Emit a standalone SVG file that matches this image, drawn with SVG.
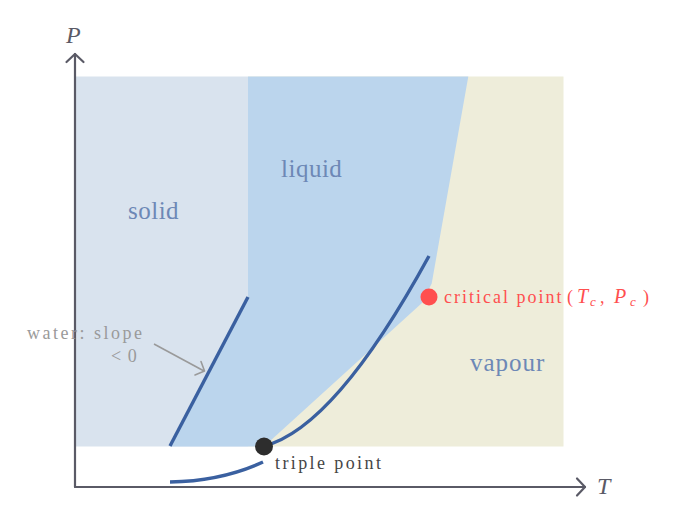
<svg xmlns="http://www.w3.org/2000/svg" width="677" height="521" viewBox="0 0 677 521">
<defs>
<style>
.region{font-family:"Liberation Serif",serif;font-size:25px;fill:#6d88b6;letter-spacing:0.5px}
.small{font-family:"Liberation Serif",serif;font-size:18px;letter-spacing:2.5px}
.axis{stroke:#5a5a66;stroke-width:2.2;fill:none;stroke-linecap:round;stroke-linejoin:round}
.curve{stroke:#3a60a0;stroke-width:3.4;fill:none}
.axlabel{font-family:"Liberation Serif",serif;font-style:italic;font-size:24px;fill:#5a5a66}
.math{font-family:"Liberation Serif",serif;font-size:18px;fill:#ff4f4f}
</style>
</defs>
<g id="regions">
<rect id="solid-region" x="75" y="76.5" width="173" height="370" fill="#d9e3ee"/>
<rect id="vapour-region" x="248" y="76.5" width="315.5" height="370" fill="#eeedda"/>
<polygon id="liquid-region" points="248,76.5 468.3,76.5 431.7,283.5 421.7,303.3 264,446.5 170,446.5 248,297" fill="#bbd5ed"/>
</g>
<g id="connectors">
<path class="curve" d="M170,446 L248,297"/>
<path class="curve" d="M264,446 Q335,428 429,256"/>
<path class="curve" d="M170,482 Q222,481 263,462"/>
<path d="M154,344 L204,371" stroke="#9a9a9a" stroke-width="1.6" fill="none"/>
<path d="M195,375 L204.5,371 L201,361.5" stroke="#9a9a9a" stroke-width="1.6" fill="none" stroke-linecap="round" stroke-linejoin="round"/>
</g>
<g id="axes">
<path class="axis" d="M75,487 L75,54"/>
<path class="axis" d="M66.5,62 L75,54 L83.5,62"/>
<path class="axis" d="M75,487 L585,487"/>
<path class="axis" d="M577,478.5 L585,487 L577,495.5"/>
<text class="axlabel" x="66" y="43">P</text>
<text class="axlabel" x="597" y="494">T</text>
</g>
<g id="solid"><text class="region" x="128" y="219">solid</text></g>
<g id="liquid"><text class="region" x="281" y="177">liquid</text></g>
<g id="vapour"><text class="region" x="470" y="371" style="letter-spacing:1px">vapour</text></g>
<g id="triple-point">
<circle cx="264" cy="446.5" r="9" fill="#2d2d2d"/>
<text class="small" x="275" y="469" fill="#454545" style="letter-spacing:2.4px">triple point</text>
</g>
<g id="critical-point">
<circle cx="429" cy="297" r="8.5" fill="#ff4f4f"/>
<text class="small" x="444" y="303" fill="#ff4f4f" style="letter-spacing:2px">critical point</text>
<text class="math" x="567" y="303">(<tspan x="577" font-style="italic" font-size="20">T</tspan><tspan x="590" y="306" font-size="13" font-style="italic">c</tspan><tspan x="600" y="303">,</tspan><tspan x="614" font-style="italic" font-size="20">P</tspan><tspan x="630" y="306" font-size="13" font-style="italic">c</tspan><tspan x="643" y="303">)</tspan></text>
</g>
<g id="water-note">
<text class="small" x="27" y="339" fill="#9a9a9a">water: slope</text>
<text class="small" x="111" y="362" fill="#9a9a9a" style="letter-spacing:1px">&lt; 0</text>
</g>
</svg>
